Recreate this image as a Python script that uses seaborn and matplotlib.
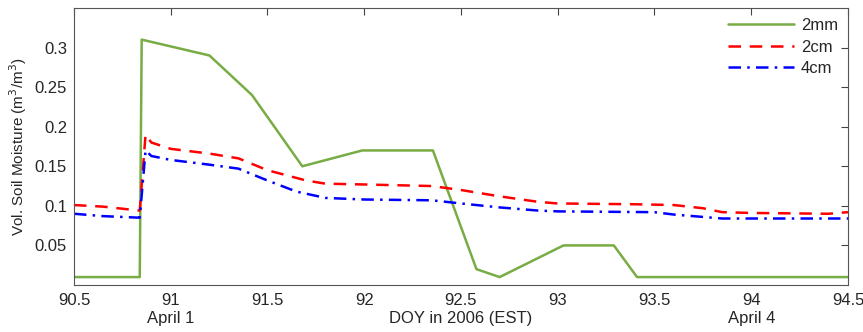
import numpy as np
import pandas as pd
import matplotlib
matplotlib.use("Agg")
import matplotlib.pyplot as plt
import matplotlib.transforms as mtransforms
import seaborn as sns

# 2mm sensor
doy_2mm = [90.5, 90.84, 90.85, 91.2, 91.42, 91.68, 91.99, 92.355, 92.58, 92.70, 93.03, 93.29, 93.41, 94.5]
vsm_2mm = [0.01, 0.01, 0.31, 0.29, 0.24, 0.15, 0.17, 0.17, 0.02, 0.01, 0.05, 0.05, 0.01, 0.01]

# 2cm sensor
doy_2cm = [90.5, 90.65, 90.84, 90.87, 90.9, 91.0, 91.2, 91.35, 91.5, 91.7, 91.8, 92.0, 92.35, 92.5,
           92.7, 92.9, 93.0, 93.4, 93.6, 93.75, 93.85, 94.0, 94.4, 94.5]
vsm_2cm = [0.101, 0.099, 0.094, 0.19, 0.18, 0.172, 0.166, 0.16, 0.145, 0.132, 0.128, 0.127, 0.125, 0.12,
           0.112, 0.105, 0.103, 0.102, 0.101, 0.097, 0.092, 0.091, 0.090, 0.092]

# 4cm sensor
doy_4cm = [90.5, 90.65, 90.84, 90.87, 90.9, 91.0, 91.2, 91.35, 91.5, 91.65, 91.8, 92.0, 92.35, 92.5,
           92.7, 92.9, 93.0, 93.5, 93.6, 93.75, 93.85, 94.5]
vsm_4cm = [0.090, 0.087, 0.085, 0.17, 0.163, 0.158, 0.152, 0.147, 0.132, 0.118, 0.110, 0.108, 0.107, 0.103,
           0.098, 0.094, 0.093, 0.092, 0.089, 0.086, 0.084, 0.084]

xticks = [90.5, 91, 91.5, 92, 92.5, 93, 93.5, 94, 94.5]
yticks = [0.05, 0.1, 0.15, 0.2, 0.25, 0.3]
date_labels = {91: "April 1", 94: "April 4"}

sns.set_style("white")
plt.rcParams["font.family"] = ["Liberation Sans", "DejaVu Sans"]
plt.rcParams["font.size"] = 11

fig = plt.figure(figsize=(8.63, 3.32), dpi=100)
ax = fig.add_axes([0.0857, 0.1416, 0.8969, 0.8344])

sns.lineplot(x=doy_2mm, y=vsm_2mm, ax=ax, color="#78AC44", lw=1.8, label="2mm", sort=False)
sns.lineplot(x=doy_2cm, y=vsm_2cm, ax=ax, color="#FF0000", lw=1.8, label="2cm", sort=False,
             linestyle=(0, (5, 3.5)))
sns.lineplot(x=doy_4cm, y=vsm_4cm, ax=ax, color="#0000FF", lw=1.8, label="4cm", sort=False,
             linestyle=(0, (5, 2.5, 1, 2.5)))

ax.set_xlim(90.5, 94.5)
ax.set_ylim(0, 0.35)
ax.set_xticks(xticks)
ax.set_xticklabels([f"{t:g}" for t in xticks])
ax.set_yticks(yticks)
ax.set_yticklabels([f"{t:g}" for t in yticks])
ax.tick_params(direction="in", length=5, top=True, right=True, width=0.8, color="#444444",
               labelsize=12)
ax.tick_params(axis="x", pad=6)
ax.tick_params(axis="y", pad=5)
for s in ax.spines.values():
    s.set_color("#555555")
    s.set_linewidth(0.8)

ax.set_ylabel("Vol. Soil Moisture (m$^3$/m$^3$)", fontsize=11, labelpad=4)
ax.set_xlabel("DOY in 2006 (EST)", fontsize=12)
ax.xaxis.label.set_va("center")
ax.xaxis.set_label_coords(0.5, -0.12)

trans = mtransforms.blended_transform_factory(ax.transData, ax.transAxes)
for x, lab in date_labels.items():
    ax.text(x, -0.12, lab, transform=trans, ha="center", va="center", fontsize=12)

leg = ax.legend(loc="upper right", frameon=False, handlelength=4.0, handletextpad=0.4,
                borderpad=0.2, borderaxespad=0.4, labelspacing=0.4, fontsize=12)

fig.savefig("out.png", dpi=100)
